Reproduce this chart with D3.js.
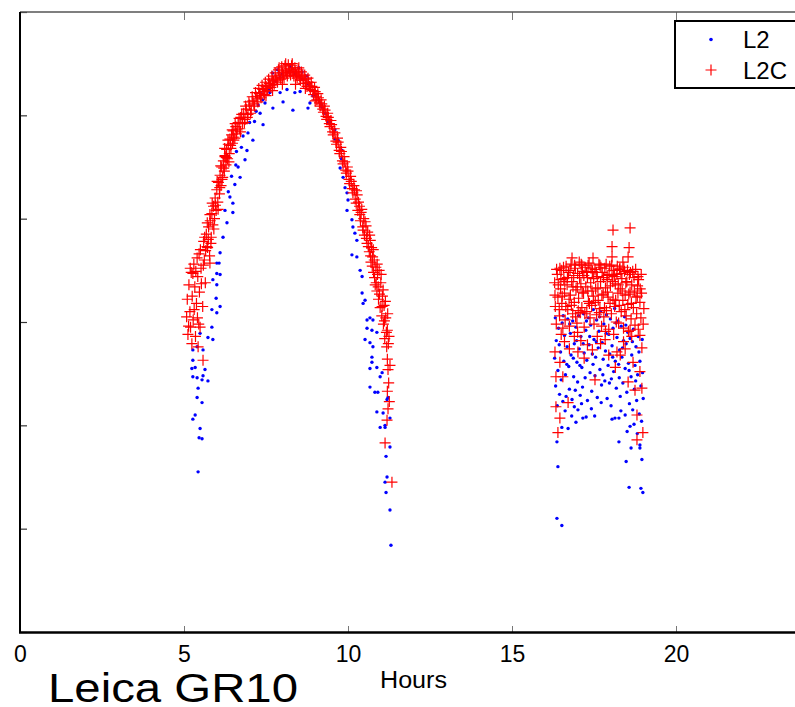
<!DOCTYPE html>
<html>
<head>
<meta charset="utf-8">
<script src="https://cdn.jsdelivr.net/npm/d3@7"></script>
<style>
  body { margin: 0; background: #fff; }
  text { font-family: "Liberation Sans", Arial, Helvetica, sans-serif; }
</style>
</head>
<body>
<svg id="chart" width="795" height="707"></svg>
<script>
// tick values (y axis has no labels in the original)
const xTicks = [0, 5, 10, 15, 20];
const yTicks = [0, 10, 20, 30, 40, 50, 60];
const seriesNames = ["L2", "L2C"];

// L2 (blue dots), first pass, [hours, value]
const l2Pass1 = [
  [5.27,20.6],[5.34,21],[5.4,22.7],[5.43,23.6],[5.55,22.2],[5.27,24.7],[5.55,24.4],[5.34,25.6],
  [5.27,26.3],[5.58,27.3],[5.4,27.6],[5.73,28.5],[5.85,31.2],[5.88,34.1],[6.0,35.7],[5.49,19.7],
  [5.46,18.8],[5.55,18.7],[5.43,15.5],[5.27,27.3],[5.24,25.5],[5.4,24.6],[5.58,24.8],[5.73,24.3],
  [5.64,25.4],[5.49,28.9],[5.88,28.3],[5.85,29.5],[6.1,31.5],[6.0,30.9],[5.98,32.3],[6.0,33.6],
  [6.1,34.6],[6.07,35.7],[6.0,34.7],[6.1,36.7],[6.19,38.2],[6.31,39.6],[6.49,40.6],[6.49,41.5],
  [6.4,42.1],[6.55,43.3],[6.71,44],[6.65,45],[6.86,45.7],[6.92,46.6],[7.1,47.6],[7.41,49.1],
  [7.32,50.2],[7.47,51.2],[7.62,52.2],[7.71,50.7],[7.93,52.2],[8.02,51.3],[8.32,50.5],[8.14,52.5],
  [7.93,53.7],[8.23,54.7],[7.32,52.2],[7.26,51],[8.38,52.2],[8.54,52.3],[8.78,50.7],[8.84,51.2],
  [8.93,51.9],[9.15,51.2],[9.2,51],[9.3,50.2],[9.45,49.3],[9.6,48.6],[9.7,47.6],[9.82,46.6],
  [9.76,44.9],[9.85,44],[9.91,43],[9.97,42.5],[10.0,41.8],[9.97,40.8],[10.12,39.9],[10.15,39.2],
  [10.21,38.6],[10.27,37.9],[10.12,36.5],[10.27,36.3],[10.37,35],[10.43,34.4],[10.43,32.8],[10.52,32.1],
  [10.58,30.2],[10.67,30.4],[10.58,29.4],[10.73,29.2],[10.52,28.3],[10.67,28],[10.76,27.6],[10.73,26.6],
  [10.73,26.1],[10.67,25.5],[10.88,25.6],[10.98,24.7],[10.67,23.7],[10.82,23.2],[10.91,23.2],[11.19,22.5],
  [10.88,21.3],[11.07,21.2],[10.98,19.8],[11.28,20.7],[11.13,19.8],[11.28,17.9],[11.16,17],[11.19,15],
  [11.13,14.5],[11.16,13.5],[11.28,11.8],[11.31,8.4],[10.46,31.8],[10.88,29],[10.76,30.2],[11.04,25.1],
  [11.22,22.7],[11.13,20],[6.6,46.5],[6.8,48],[7.0,49.3],[7.2,50.4],[7.4,51.5],[7.6,52.5],
  [7.8,53.3],[8.0,54],[8.2,54.2],[8.4,54],[8.6,53.5],[8.8,53],[9.0,52],[9.2,50.8],
  [9.4,49.3],[9.6,47.7],[9.8,45.8],[7.7,54.1],[7.85,54.4],[8.5,54.6],[8.25,54.9],[8.6,54.2],
  [8.75,53.8],[6.25,40.8],[6.35,42.6],[6.45,44.1],[6.58,45.2],[6.75,46.9],[6.95,48.3],[7.15,49.4]
];

// L2 (blue dots), second pass
const l2Pass2 = [
  [16.37,18.4],[16.4,16],[16.37,11],[16.52,10.3],[18.57,14],[18.93,13.9],[18.99,13.5],[18.48,16.5],
  [18.96,16.7],[18.63,17.8],[18.26,18.4],[18.9,17.8],[17.01,21.5],[16.95,20.3],[17.16,20.7],[17.26,20.8],
  [16.71,19.7],[16.52,19.8],[18.05,20.6],[18.14,20.7],[18.26,20.7],[18.45,21],[18.6,19.9],[18.51,19.4],
  [18.9,18.1],
  [16.3,26.5],[16.33,23.8],[16.35,28.2],[16.38,21.9],[16.4,25.3],[16.42,29.4],[16.45,23],[16.48,27.1],
  [16.5,24.4],[16.53,29.9],[16.55,22.3],[16.58,26.2],[16.6,28.7],[16.63,24.9],[16.65,22.8],[16.68,27.6],
  [16.7,30.3],[16.73,25.7],[16.75,23.5],[16.78,28.9],[16.8,26.8],[16.83,22.5],[16.85,30.1],[16.88,24.7],
  [16.9,27.9],[16.93,23.4],[16.95,29.5],[16.98,26.1],[17.0,24.2],[17.03,30.6],[17.05,27.4],[17.08,22.9],
  [17.1,28.6],[17.13,25.6],[17.15,23.7],[17.18,30.8],[17.2,27],[17.23,24.6],[17.25,29.2],[17.28,26.3],
  [17.3,22.4],[17.33,30.4],[17.35,27.8],[17.38,25.1],[17.4,29.7],[17.43,23.3],[17.45,26.9],[17.48,31.2],
  [17.5,28.3],[17.53,24.8],[17.55,26.6],[17.58,30.2],[17.6,22.7],[17.63,27.5],[17.65,29.1],[17.68,25.4],
  [17.7,31],[17.73,23.9],[17.75,28],[17.78,26.4],[17.8,29.8],[17.83,24.3],[17.85,27.2],[17.88,30.7],
  [17.9,22.6],[17.93,25.8],[17.95,28.8],[17.98,26.9],[18.0,30.3],[18.03,24.5],[18.05,27.7],[18.08,29.4],
  [18.1,25.2],[18.13,31.3],[18.15,26.2],[18.18,23.6],[18.2,28.5],[18.23,30.1],[18.25,25.9],[18.28,27.3],
  [18.3,22.8],[18.33,29.6],[18.35,26.6],[18.38,24.1],[18.4,28.2],[18.43,30.5],[18.45,25.5],[18.48,27.9],
  [18.5,23.2],[18.53,29],[18.55,26],[18.58,22.1],[18.6,28.4],[18.63,24.7],[18.65,26.8],[18.68,21.5],
  [18.7,29.3],[18.73,23.5],[18.75,25.8],[18.78,27.6],[18.8,22.4],[18.83,24.9],[18.85,28.6],[18.88,21.1],
  [18.9,26.2],[18.93,23.8],[18.95,20.4],[18.98,25.1],[19.0,22.6],
  [16.32,30.4],[16.44,27.8],[16.56,30.6],[16.67,25.9],[16.76,29.8],[16.87,26.5],[16.97,28.2],[17.07,25.8],
  [17.17,27.9],[17.27,30.1],[17.37,28.6],[17.47,25.9],[17.57,28.1],[17.67,30.5],[17.77,24.9],[17.87,28.9],
  [17.97,24.1],[18.07,26.6],[18.17,29.9],[18.27,24.6],[18.37,27.5],[18.47,29.7],[18.57,25.3],[18.67,28.1],
  [18.77,24.3],[18.87,27.1],[18.97,28.3],
  [16.62,21.4],[16.82,20.9],[17.12,22.1],[17.42,21.6],[17.72,22.2],[18.02,21.9],[18.32,21.4],[18.72,20.1],
  [18.82,19.2],[17.52,20.9],[16.9,21.8]
];

// L2C (red plus), first pass
const l2cPass1 = [
  [5.08,30.5],[5.1,32.2],[5.12,28.8],[5.15,33.6],[5.18,31],[5.2,29.5],[5.22,34.8],[5.25,32.5],
  [5.28,30.2],[5.3,35.6],[5.33,33.4],[5.35,28.6],[5.38,31.8],[5.4,36.2],[5.42,34.4],[5.45,29.8],
  [5.47,32.9],[5.5,37],[5.52,35.2],[5.58,26.3],[5.57,31.5],[5.6,37.8],[5.62,36],[5.65,33.8],
  [5.68,38.5],[5.43,27.6],[5.72,37.2],[5.75,39.2],[5.78,36.4],[5.8,39.8],[5.83,38.2],[5.85,40.5],
  [5.88,39.4],[5.9,41.2],[5.93,40],[5.95,42],[5.98,40.8],[6.0,42.8],[6.03,41.6],[6.05,43.5],
  [6.08,42.4],[6.1,44.2],[6.13,43.2],[6.15,45],[6.18,44],[6.2,45.6],[6.23,44.6],[6.25,46.1],
  [6.28,45.2],[6.3,46.7],[6.33,45.8],[6.35,47.2],[6.38,46.3],[6.4,47.7],[6.43,46.8],[6.45,48.1],
  [6.48,47.3],[6.5,48.5],[6.55,47.8],[6.58,48.9],[6.6,48.2],[6.65,49.3],[6.7,48.7],[6.73,49.8],
  [6.78,49.2],[6.82,50.2],[6.86,49.6],[6.9,50.6],[6.95,50.1],[7.0,51],[7.05,50.5],[7.1,51.4],
  [7.15,50.9],[7.2,51.8],[7.25,51.3],[7.3,52.1],[7.35,51.7],[7.4,52.5],[7.45,52],[7.5,52.8],
  [7.55,52.4],[7.6,53.1],[7.65,52.7],[7.7,53.4],[7.75,53],[7.8,53.6],[7.85,53.2],[7.9,53.9],
  [7.95,53.5],[8.0,54.1],[8.05,53.6],[8.1,54.3],[8.15,53.8],[8.2,54.5],[8.25,53.9],[8.3,54.4],
  [8.35,53.8],[8.4,54.2],[8.45,53.6],[8.5,54],[8.55,53.4],[8.6,53.8],[8.65,53.1],[8.7,53.5],
  [8.75,52.8],[8.8,53.2],[8.85,52.5],[8.9,52.8],[8.95,52],[9.0,52.3],[9.05,51.5],[9.1,51.7],
  [9.15,50.9],[9.2,51.1],[9.25,50.3],[9.3,50.5],[9.35,49.6],[9.4,49.8],[9.45,48.9],[9.5,49.1],
  [9.55,48.1],[9.6,48.3],[9.65,47.2],[9.7,47.4],[9.75,46.3],[9.8,46.5],[9.85,45.3],[9.9,45.5],
  [9.95,44.4],[10.0,44.6],[10.05,43.4],[10.1,43.6],[10.15,42.5],[10.2,42.8],[10.25,41.5],[10.28,42.3],
  [10.3,40.8],[10.35,41.2],[10.38,39.8],[10.4,40.6],[10.45,39.2],[10.48,40],[10.5,38.4],[10.55,39.3],
  [10.58,37.6],[10.6,38.7],[10.65,36.8],[10.68,37.9],[10.7,35.8],[10.72,37.2],[10.75,36.3],[10.78,34.8],
  [10.8,36],[10.83,33.6],[10.85,35.3],[10.88,33],[10.9,34.6],[10.93,32.2],[10.95,35],[10.98,31.4],
  [11.0,33.8],[11.03,30.6],[11.05,32.5],[11.08,29.8],[11.1,31.6],[11.12,28.4],[11.15,30.4],[11.18,27.6],
  [11.2,29.2],[11.22,25.4],[11.24,24.1],[11.26,22.3],[11.19,20.5],[11.13,18.3],[11.34,14.5],[11.2,26.4],
  [7.9,54.6],[8.1,55],[8.3,55],[8.5,54.6],[8.0,53],[8.4,53],[7.7,52.4],[8.7,52.6],
  [7.5,51.9],[9.0,51.4],[6.25,46],[6.5,47.9],[5.7,37.3],[5.27,34.7],[5.79,35.7],[5.49,29.5],
  [5.14,29.6],[5.19,35.2],[5.24,27.9],[5.31,31.2],[5.36,34.9],[5.41,30.4],[5.46,36.6],[5.53,33.7],
  [5.59,35.5],[5.63,38.2],[5.66,36.9],[5.71,39.6],[5.74,38],[5.79,40.4],[5.82,37.6],[5.86,41.5],
  [5.91,39],[5.96,41.3],[6.01,43.6],[6.04,40.9],[6.09,43],[6.12,45.1],[6.16,43.8],[6.21,44.9],
  [6.24,46.8],[6.29,45.9],[6.34,47.6],[6.37,45.5],[6.42,47.1],[6.47,48.6],[6.52,47.6],[6.56,49.2],
  [6.62,48.6],[6.68,49.7],[6.72,48.4],[6.76,50.1],[6.84,49.3],[6.88,50.9],[6.93,49.8],[6.98,51.3],
  [7.03,50.2],[7.08,51.8],[7.13,51.1],[7.18,52.2],[7.23,51.6],[7.28,52.6],[7.33,51.9],[7.38,52.9],
  [7.43,52.3],[7.48,53.2],[7.53,52.6],[7.58,53.5],[7.63,52.9],[7.68,53.8],[7.73,53.3],[7.78,54.1],
  [7.83,53.4],[7.88,54.4],[7.93,53.7],[7.98,54.7],[8.03,53.9],[8.08,54.8],[8.13,54.1],[8.18,54.9],
  [8.22,54.2],[8.28,54.8],[8.33,54.1],[8.38,54.6],[8.43,53.9],[8.48,54.4],[8.53,53.7],[8.58,54.2],
  [8.63,53.4],[8.68,53.9],[8.73,53.1],[8.78,53.6],[8.83,52.8],[8.88,53.2],[8.93,52.4],[8.98,52.7],
  [9.03,51.8],[9.08,52.1],[9.13,51.2],[9.18,51.5],[9.23,50.6],[9.28,50.9],[9.33,49.9],[9.38,50.2],
  [9.43,49.2],[9.48,49.5],[9.53,48.4],[9.58,48.7],[9.63,47.5],[9.68,47.8],[9.73,46.6],[9.78,46.9],
  [9.83,45.6],[9.88,46],[9.93,44.7],[9.98,45],[10.03,43.8],[10.08,44.1],[10.13,42.9],[10.18,43.2],
  [10.22,41.9],[10.26,42.7],[10.32,41.6],[10.36,40.4],[10.42,40.9],[10.46,38.9],[10.52,39.7],[10.56,38.1],
  [10.62,37.3],[10.66,38.4],[10.69,36.4],[10.74,35.4],[10.77,37],[10.81,34.3],[10.86,33.8],[10.89,35.6],
  [10.92,33.4],[10.96,32.7],[11.01,34.6],[11.04,31.5],[11.07,33.1],[11.11,30.1],[11.14,32],[11.17,29],
  [11.21,30.8],[11.23,27.9],[11.25,28.6],[11.2,23.3],[11.28,25.8],[11.22,21.6]
];

// L2C (red plus), second pass
const l2cPass2 = [
  [18.08,38.9],[18.6,39.1],[18.05,37.3],[18.57,37.2],[18.05,36.3],[18.54,36.3],[16.83,36.2],[16.46,35.2],
  [18.38,35.8],[17.47,36.2],[17.68,35.5],[18.84,34.4],[17.32,35.5],[17.13,35.5],[18.29,35.2],[17.9,34.5],
  [16.3,33.8],[16.32,31.5],[16.35,29.8],[16.38,34.6],[16.4,32.4],[16.45,30.6],[16.48,33.2],[16.5,35],
  [16.52,31.8],[16.55,29.4],[16.58,34.2],[16.6,32.8],[16.62,30.2],[16.65,35.4],[16.68,33.6],[16.7,31.2],
  [16.72,34.8],[16.75,29.6],[16.78,32.6],[16.8,35.6],[16.82,33.9],[16.85,30.8],[16.88,34.5],[16.9,31.9],
  [16.93,35.2],[16.95,33.1],[16.98,29.9],[17.0,34.7],[17.03,32.3],[17.05,35.8],[17.08,30.9],[17.1,33.7],
  [17.13,31.4],[17.15,34.9],[17.18,32.8],[17.2,29.5],[17.23,35.3],[17.25,33.4],[17.28,31],[17.3,34.3],
  [17.33,32],[17.35,35.7],[17.38,30.4],[17.4,33.8],[17.43,31.6],[17.45,34.9],[17.48,32.5],[17.5,29.8],
  [17.53,35.1],[17.55,33.2],[17.58,30.7],[17.6,34.4],[17.63,32.1],[17.65,35.6],[17.68,31.3],[17.7,33.9],
  [17.73,29.6],[17.75,34.8],[17.78,32.7],[17.8,30.5],[17.83,35.2],[17.85,33.3],[17.88,31.1],[17.9,34.1],
  [17.93,32.4],[17.95,29.3],[17.98,35.4],[18.0,33.5],[18.03,30.8],[18.05,34.5],[18.08,32.2],[18.1,35],
  [18.13,31.5],[18.15,33.7],[18.18,30],[18.2,34.6],[18.23,32.8],[18.25,29.9],[18.28,35.1],[18.3,33.2],
  [18.33,31],[18.35,34.2],[18.38,32.1],[18.4,29.4],[18.43,34.9],[18.45,32.6],[18.48,30.6],[18.5,33.9],
  [18.53,31.7],[18.55,29.1],[18.58,34.6],[18.6,32.9],[18.63,30.3],[18.65,33.6],[18.7,31.4],[18.72,34.3],
  [18.75,29.7],[18.78,32.4],[18.8,30.8],[18.83,33.5],[18.85,29.3],[18.9,31.9],[18.93,30.4],[18.95,32.8],
  [19.0,29.8],[19.02,31.3],
  [16.31,27.1],[16.46,26.1],[16.34,24.7],[16.55,24.7],[16.71,22.2],[16.34,21.8],[16.46,20.7],[16.4,19.3],
  [17.01,27.1],[17.53,24.4],[17.84,28.3],[18.2,27.1],[18.69,26.1],[18.9,25.2],[18.96,23.6],[18.54,24.2],
  [18.81,21],[18.99,19.3],[18.81,18.6],[18.9,28.7],[18.96,27.5],[17.1,28.2],[17.6,28.6],[18.1,28.8],
  [18.4,28.1],[16.9,28.6],[17.3,27.8],[18.3,26.8],
  [16.31,32.6],[16.36,35.1],[16.41,33.6],[16.44,31.2],[16.49,34.1],[16.53,32.5],[16.57,35.3],[16.61,33.9],
  [16.64,31.5],[16.69,34.3],[16.74,32.2],[16.77,35],[16.81,31.6],[16.86,33.4],[16.91,35.5],[16.94,30.5],
  [16.99,33.4],[17.02,31.1],[17.06,34.3],[17.11,35.6],[17.14,32.9],[17.19,34.5],[17.22,30.8],[17.27,34.8],
  [17.31,33],[17.36,31.8],[17.41,35.2],[17.44,33],[17.49,34.2],[17.54,31.9],[17.57,34.8],[17.62,33.3],
  [17.66,30.9],[17.71,35.3],[17.74,32.6],[17.79,34.3],[17.82,31.4],[17.87,35.6],[17.91,32.9],[17.96,34.6],
  [17.99,31.8],[18.04,35.5],[18.07,33.9],[18.12,34.4],[18.16,32.1],[18.21,35.4],[18.24,33.6],[18.27,31.6],
  [18.32,34.7],[18.36,33],[18.41,35.3],[18.44,31.2],[18.47,33.8],[18.52,35],[18.56,32.7],[18.61,34.8],
  [18.64,31.8],[18.68,34.9],[18.73,33],[18.77,35.1],[18.82,32.5],[18.86,34.1],[18.91,33.2],[18.94,34.6],
  [16.6,28.1],[16.75,27.4],[17.2,26.5],[17.45,27.3],[17.7,27.9],[17.95,26.8],[18.15,25.6],[18.45,27.4],
  [18.65,28.6],[18.75,23.4],[16.5,28.8],[17.0,29],[17.85,29.1],[18.6,29.2]
];

const l2 = l2Pass1.concat(l2Pass2);
const l2c = l2cPass1.concat(l2cPass2);

const svg = d3.select("#chart");

const x = d3.scaleLinear().domain([0, 24]).range([20, 807.2]);
const y = d3.scaleLinear().domain([0, 60]).range([632, 12]);

// ticks (inward, matlab style)
const gx = svg.append("g")
  .attr("transform", "translate(0,632)")
  .call(d3.axisBottom(x).tickValues(xTicks).tickSize(-6).tickPadding(14));
gx.select(".domain").remove();
gx.selectAll(".tick line").attr("stroke", "#777");
gx.selectAll(".tick text").attr("font-size", 23).attr("fill", "#000")
  .attr("font-family", "Liberation Sans, Arial, sans-serif");

const gt = svg.append("g")
  .attr("transform", "translate(0,12)")
  .call(d3.axisTop(x).tickValues(xTicks).tickSize(-8).tickFormat(""));
gt.select(".domain").remove();
gt.selectAll(".tick line").attr("stroke", "#777");

const gy = svg.append("g")
  .attr("transform", "translate(20,0)")
  .call(d3.axisLeft(y).tickValues(yTicks).tickSize(-7).tickFormat(""));
gy.select(".domain").remove();
gy.selectAll(".tick line").attr("stroke", "#333").attr("stroke-width", 1.2);

// box edges
svg.append("line").attr("x1", 20).attr("x2", 795).attr("y1", 12).attr("y2", 12)
  .attr("stroke", "#555").attr("stroke-width", 1.5);
svg.append("line").attr("x1", 20).attr("x2", 20).attr("y1", 12).attr("y2", 633)
  .attr("stroke", "#000").attr("stroke-width", 2);
svg.append("line").attr("x1", 19).attr("x2", 795).attr("y1", 632.5).attr("y2", 632.5)
  .attr("stroke", "#000").attr("stroke-width", 2.5);

// L2 dots
svg.append("g").selectAll("circle")
  .data(l2)
  .enter()
  .append("circle")
  .attr("cx", d => x(d[0]))
  .attr("cy", d => y(d[1]))
  .attr("r", 1.7)
  .attr("fill", "#0000ff");

// L2C plus signs
const plus = "M-5.5,0H5.5M0,-5.5V5.5";
svg.append("g").selectAll("path")
  .data(l2c)
  .enter()
  .append("path")
  .attr("transform", d => "translate(" + x(d[0]) + "," + y(d[1]) + ")")
  .attr("d", plus)
  .attr("fill", "none")
  .attr("stroke", "#ff0000")
  .attr("stroke-width", 1.2);

// legend
const legend = svg.append("g");
legend.append("rect")
  .attr("x", 675).attr("y", 21).attr("width", 140).attr("height", 67)
  .attr("fill", "#fff").attr("stroke", "#000").attr("stroke-width", 2);
legend.append("circle").attr("cx", 711).attr("cy", 39.5).attr("r", 1.8).attr("fill", "#0000ff");
legend.append("path").attr("transform", "translate(711,70)").attr("d", plus)
  .attr("fill", "none").attr("stroke", "#ff0000").attr("stroke-width", 1.2);
legend.selectAll("text.lg")
  .data(seriesNames)
  .enter()
  .append("text")
  .attr("class", "lg")
  .attr("x", 743)
  .attr("y", (d, i) => 48 + i * 31)
  .attr("font-size", 24)
  .text(d => d);

// labels
svg.append("text")
  .attr("x", 380).attr("y", 688)
  .attr("font-size", 23)
  .attr("textLength", 67).attr("lengthAdjust", "spacingAndGlyphs")
  .text("Hours");

svg.append("text")
  .attr("x", 48).attr("y", 702)
  .attr("font-size", 41)
  .attr("textLength", 250).attr("lengthAdjust", "spacingAndGlyphs")
  .text("Leica GR10");
</script>
</body>
</html>
